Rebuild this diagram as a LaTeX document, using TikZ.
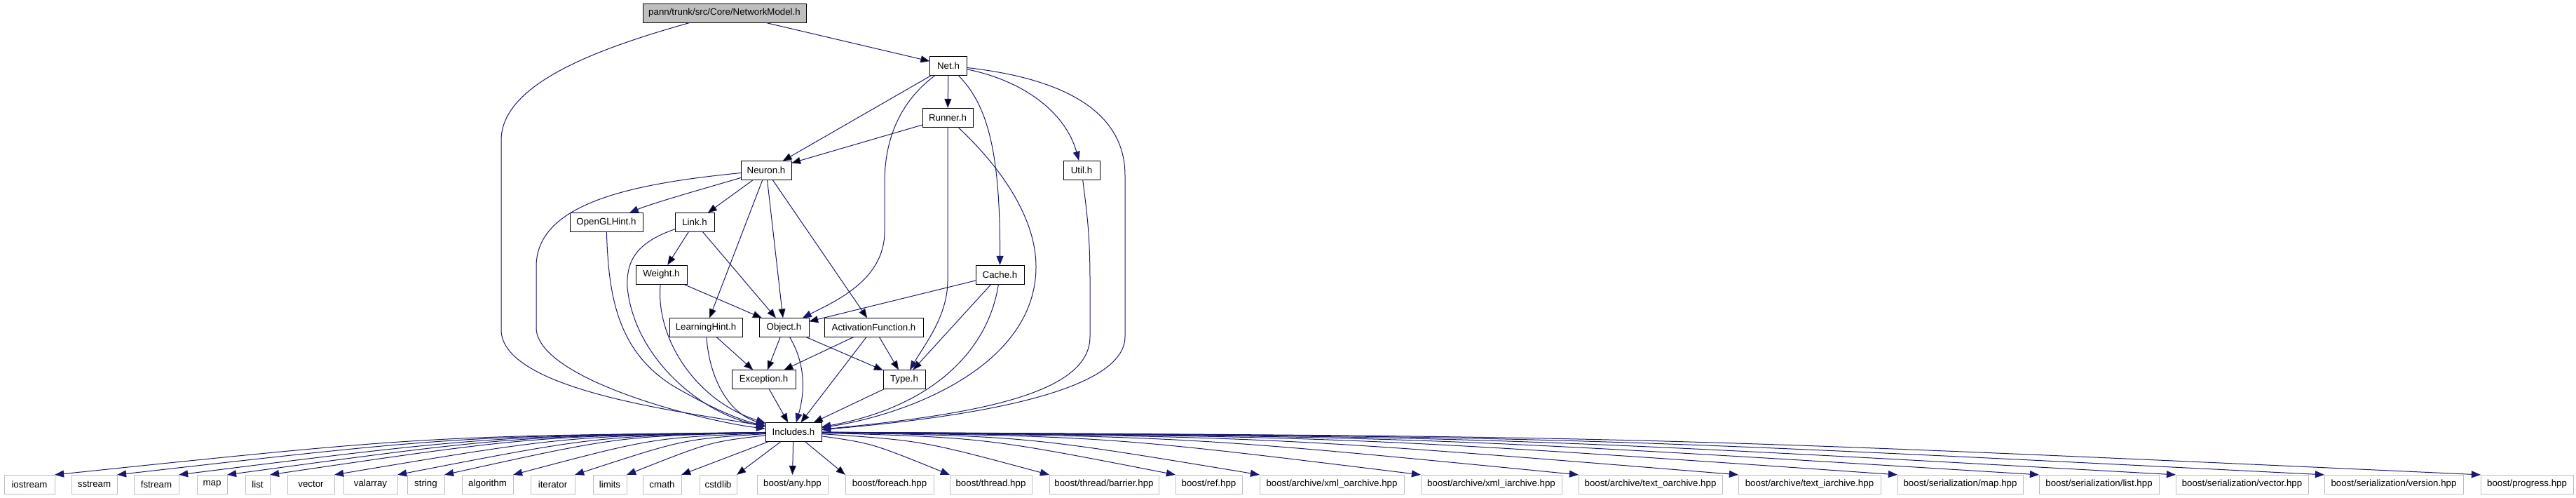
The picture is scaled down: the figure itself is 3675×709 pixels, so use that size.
\documentclass[tikz,border=0pt]{standalone}
\usepackage{fontspec}
\setmainfont{Liberation Sans}
\usepackage{xcolor}
\usepackage{tikz}
\usetikzlibrary{arrows.meta}

\definecolor{depblue}{HTML}{191970}
\definecolor{extgrey}{HTML}{BFBFBF}

\tikzset{
  hdr/.style={draw=black, line width=0.25pt, minimum height=27pt, inner sep=0pt,
              font=\fontsize{13.3}{16}\selectfont},
  sys/.style={hdr, draw=extgrey},
  root/.style={hdr, fill=extgrey},
  dep/.style={->, draw=depblue, line width=0.25pt},
}

\begin{document}
\begin{tikzpicture}[x=1pt, y=-1pt, scale=0.25, transform shape,
                    >={Triangle[length=3.25pt,width=2.5pt]}]
  \useasboundingbox (0,0) rectangle (3675,709);

  % project headers
  \node[root, minimum width=233pt] (nm) at (1033.5,18.5) {pann/trunk/src/Core/NetworkModel.h};
  \node[hdr, minimum width=53pt] (net) at (1353,93.5) {Net.h};
  \node[hdr, minimum width=72pt] (runner) at (1352,167.5) {Runner.h};
  \node[hdr, minimum width=72pt] (neuron) at (1093,243) {Neuron.h};
  \node[hdr, minimum width=52pt] (util) at (1543,242.5) {Util.h};
  \node[hdr, minimum width=104pt] (opengl) at (865,317) {OpenGLHint.h};
  \node[hdr, minimum width=56pt] (link) at (991,317) {Link.h};
  \node[hdr, minimum width=73pt] (weight) at (943.5,391.5) {Weight.h};
  \node[hdr, minimum width=69pt] (cache) at (1426.5,391.5) {Cache.h};
  \node[hdr, minimum width=104pt] (learning) at (1007,467) {LearningHint.h};
  \node[hdr, minimum width=71pt] (object) at (1118.5,467) {Object.h};
  \node[hdr, minimum width=141pt] (activation) at (1246.5,467) {ActivationFunction.h};
  \node[hdr, minimum width=91pt] (exception) at (1089.5,541) {Exception.h};
  \node[hdr, minimum width=60pt] (type) at (1290,541) {Type.h};
  \node[hdr, minimum width=80pt] (inc) at (1132,616) {Includes.h};

  % system and boost headers
  \node[sys, minimum width=72pt] (iostream) at (42,690.5) {iostream};
  \node[sys, minimum width=65pt] (sstream) at (134.5,690.5) {sstream};
  \node[sys, minimum width=64pt] (fstream) at (223,690.5) {fstream};
  \node[sys, minimum width=43pt] (map) at (302.5,690.5) {map};
  \node[sys, minimum width=35pt] (list) at (367.5,690.5) {list};
  \node[sys, minimum width=67pt] (vector) at (443.5,690.5) {vector};
  \node[sys, minimum width=77pt] (valarray) at (528.5,690.5) {valarray};
  \node[sys, minimum width=53pt] (string) at (607.5,690.5) {string};
  \node[sys, minimum width=73pt] (algorithm) at (695.5,690.5) {algorithm};
  \node[sys, minimum width=63pt] (iterator) at (788.5,690.5) {iterator};
  \node[sys, minimum width=48pt] (limits) at (870,690.5) {limits};
  \node[sys, minimum width=55pt] (cmath) at (944.5,690.5) {cmath};
  \node[sys, minimum width=53pt] (cstdlib) at (1024.5,690.5) {cstdlib};
  \node[sys, minimum width=101pt] (any) at (1130.5,690.5) {boost/any.hpp};
  \node[sys, minimum width=126pt] (foreach) at (1269,690.5) {boost/foreach.hpp};
  \node[sys, minimum width=117pt] (thread) at (1413.5,690.5) {boost/thread.hpp};
  \node[sys, minimum width=156pt] (barrier) at (1575,690.5) {boost/thread/barrier.hpp};
  \node[sys, minimum width=95pt] (ref) at (1724.5,690.5) {boost/ref.hpp};
  \node[sys, minimum width=206pt] (xmlo) at (1900,690.5) {boost/archive/xml\_oarchive.hpp};
  \node[sys, minimum width=201pt] (xmli) at (2127.5,690.5) {boost/archive/xml\_iarchive.hpp};
  \node[sys, minimum width=205pt] (texto) at (2354.5,690.5) {boost/archive/text\_oarchive.hpp};
  \node[sys, minimum width=203pt] (texti) at (2581.5,690.5) {boost/archive/text\_iarchive.hpp};
  \node[sys, minimum width=179pt] (smap) at (2796.5,690.5) {boost/serialization/map.hpp};
  \node[sys, minimum width=171pt] (slist) at (2994.5,690.5) {boost/serialization/list.hpp};
  \node[sys, minimum width=189pt] (svector) at (3198.5,690.5) {boost/serialization/vector.hpp};
  \node[sys, minimum width=198pt] (sversion) at (3415,690.5) {boost/serialization/version.hpp};
  \node[sys, minimum width=132pt] (progress) at (3605,690.5) {boost/progress.hpp};

  % straight includes
  \path[dep] (nm) edge (net)
        (net) edge (runner) edge (neuron)
        (runner) edge (neuron)
        (neuron) edge (link) edge (learning) edge (object) edge (activation)
        (link) edge (weight) edge (object)
        (weight) edge (object)
        (cache) edge (object) edge (type)
        (learning) edge (exception)
        (object) edge (exception) edge (type)
        (activation) edge (exception) edge (inc) edge (type)
        (exception) edge (inc)
        (type) edge (inc);

  % routed includes
  \draw[dep] (nm) .. controls (850,70) and (715,120) .. (715,200) -- (715,470)
             .. controls (715,560) and (1000,590) .. (inc);
  \draw[dep] (net) .. controls (1290,140) and (1262,190) .. (1262,260) -- (1262,330)
             .. controls (1262,400) and (1190,430) .. (object);
  \draw[dep] (net) .. controls (1410,150) and (1427,220) .. (cache);
  \draw[dep] (net) .. controls (1460,115) and (1520,160) .. (util);
  \draw[dep] (net) .. controls (1500,110) and (1605,150) .. (1605,250) -- (1605,480)
             .. controls (1605,560) and (1380,595) .. (inc);
  \draw[dep] (util) .. controls (1550,300) and (1555,330) .. (1555,400) -- (1555,480)
             .. controls (1555,560) and (1400,590) .. (inc);
  \draw[dep] (runner) -- (1352,400) .. controls (1352,450) and (1320,490) .. (type);
  \draw[dep] (runner) .. controls (1440,250) and (1478,320) .. (1478,380)
             .. controls (1478,520) and (1300,590) .. (inc);
  \draw[dep] (cache) .. controls (1410,500) and (1330,580) .. (inc);
  \draw[dep] (neuron) .. controls (900,262) and (765,290) .. (765,380) -- (765,467)
             .. controls (765,540) and (1000,600) .. (inc);
  \draw[dep] (neuron) .. controls (1000,270) and (930,290) .. (opengl);
  \draw[dep] (opengl) .. controls (868,420) and (880,500) .. (960,550)
             .. controls (1020,585) and (1060,600) .. (inc);
  \draw[dep] (link) .. controls (910,345) and (893,370) .. (895,410)
             .. controls (905,510) and (1000,590) .. (inc);
  \draw[dep] (weight) .. controls (935,480) and (990,570) .. (inc);
  \draw[dep] (learning) .. controls (1012,540) and (1040,590) .. (inc);
  \draw[dep] (object) .. controls (1150,520) and (1148,560) .. (inc);

  % Includes.h fan-out
  \draw[dep] (inc) .. controls (605,622) .. (iostream.north east);
  \draw[dep] (inc) .. controls (650,622) .. (sstream.north east);
  \draw[dep] (inc) .. controls (694,622) .. (fstream.north east);
  \draw[dep] (inc) .. controls (728,622) .. (map.north east);
  \draw[dep] (inc) .. controls (758,622) .. (list.north east);
  \draw[dep] (inc) .. controls (805,622) .. (vector.north east);
  \draw[dep] (inc) .. controls (850,622) .. (valarray.north east);
  \draw[dep] (inc) .. controls (883,622) .. (string.north east);
  \draw[dep] (inc) .. controls (932,624) .. (algorithm.north east);
  \draw[dep] (inc) .. controls (976,626) .. (iterator.north east);
  \draw[dep] (inc) .. controls (1013,630) .. (limits.north east);
  \path[dep] (inc) edge (cmath.north east)
        (inc) edge (cstdlib.north east)
        (inc) edge (any.north)
        (inc) edge (foreach.north west);
  \draw[dep] (inc) .. controls (1244,632) .. (thread.north west);
  \draw[dep] (inc) .. controls (1315,628) .. (barrier.north west);
  \draw[dep] (inc) .. controls (1405,624) .. (ref.north west);
  \draw[dep] (inc) .. controls (1465,622) .. (xmlo.north west);
  \draw[dep] (inc) .. controls (1580,622) .. (xmli.north west);
  \draw[dep] (inc) .. controls (1692,622) .. (texto.north west);
  \draw[dep] (inc) .. controls (1806,622) .. (texti.north west);
  \draw[dep] (inc) .. controls (1920,622) .. (smap.north west);
  \draw[dep] (inc) .. controls (2020,622) .. (slist.north west);
  \draw[dep] (inc) .. controls (2118,622) .. (svector.north west);
  \draw[dep] (inc) .. controls (2224,622) .. (sversion.north west);
  \draw[dep] (inc) .. controls (2336,622) .. (progress.north west);
\end{tikzpicture}
\end{document}
